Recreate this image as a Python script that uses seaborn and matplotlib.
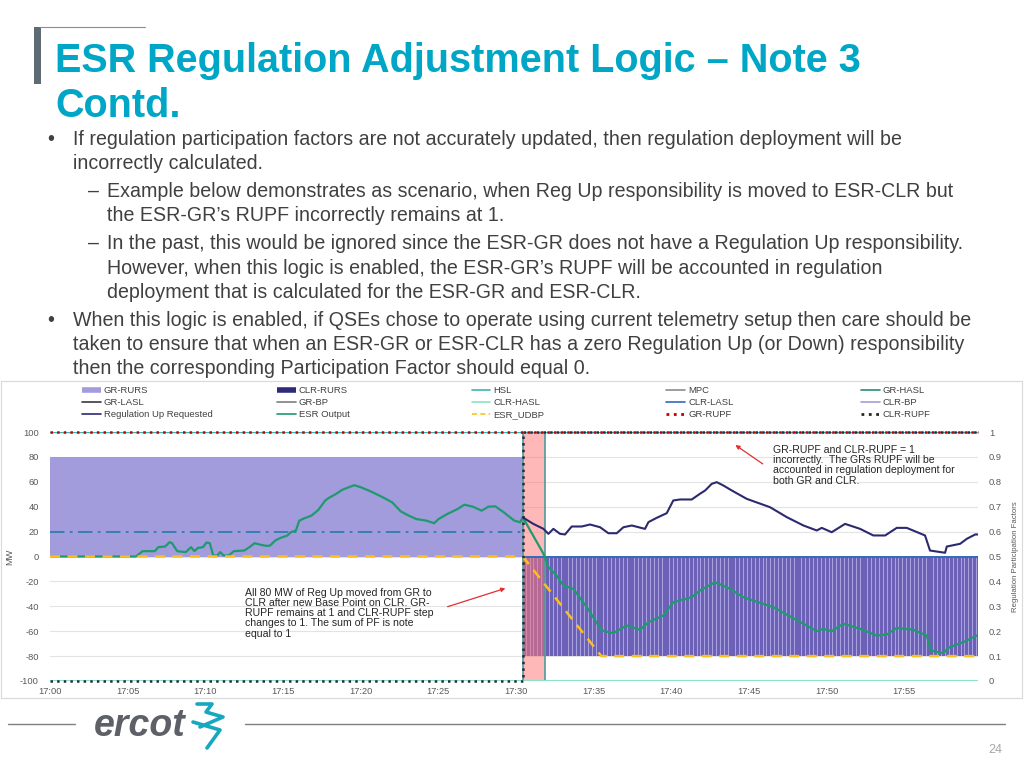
import numpy as np
import pandas as pd
import seaborn as sns
import matplotlib.pyplot as plt
from matplotlib.lines import Line2D
from matplotlib.patches import Rectangle

# time axis is in minutes after 17:00
tick_minutes = [0, 5, 10, 15, 20, 25, 30, 35, 40, 45, 50, 55]
tick_labels = ['17:00', '17:05', '17:10', '17:15', '17:20', '17:25',
               '17:30', '17:35', '17:40', '17:45', '17:50', '17:55']
x_end = 59.75
switch_t = 30.44      # new base point on CLR
pink_end = 31.85

gr_rurs_mw = 80
clr_rurs_mw = -80
gr_bp_mw = 20
hsl_mw = 100
clr_hasl_mw = -100

udbp_t = [0, 30.44, 35.5, 59.75]
udbp_mw = [0, 0, -80, -80]

gr_rupf_t = [0, 59.75]
gr_rupf = [1, 1]
clr_rupf_t = [0, 30.44, 30.44, 59.75]
clr_rupf = [0, 0, 1, 1]

esr_t = [0, 5.53, 5.97, 6.75, 6.97, 7.41, 7.70, 7.86, 8.19, 8.74, 9.08, 9.30, 9.52, 9.85,
         10.07, 10.29, 10.51, 10.78, 10.96, 11.18, 11.51, 11.84, 12.51, 12.84, 13.17, 13.61,
         13.95, 14.17, 14.50, 14.83, 15.28, 15.50, 15.83, 16.05, 16.38, 16.83, 17.27, 17.71,
         17.93, 18.40, 18.82, 19.59, 20.04, 20.70, 21.36, 22.03, 22.58, 23.02, 23.58, 24.24,
         24.73, 25.02, 25.57, 26.24, 26.68, 27.23, 27.79, 28.23, 28.67, 29.22, 29.89, 30.27,
         30.44, 31.77, 32.09, 32.6, 33.05, 33.7, 34.56, 35.52, 36.27, 37.13, 37.99, 38.53,
         39.49, 40.13, 41.32, 41.85, 42.82, 43.79, 44.64, 46.57, 48.51, 49.37, 49.8, 50.33,
         51.08, 52.16, 53.23, 53.88, 54.52, 55.59, 56.45, 56.71, 57.52, 57.84, 58.81, 59.67,
         59.75]
esr_mw = [0, 0, 4.3, 4.3, 7.5, 8, 11.5, 10.7, 4.3, 3.5, 7.5, 4.3, 6.9, 7.5,
          11.2, 10.7, 0.8, 0.8, 3.5, 0.8, 0.8, 4.3, 4.8, 7.5, 10.7, 9.3,
          8.5, 8.8, 12.8, 14.9, 16.8, 19.5, 20.8, 28.8, 30.7, 32.8, 37.3, 44.8,
          46.9, 50.1, 53.6, 57.3, 55.5, 52, 48, 43.5, 36.3, 33.3, 30.1, 28.8,
          26.7, 30.1, 34.1, 38.1, 41.6, 40, 36.8, 40, 40.3, 35.5, 28.8, 27.5,
          31.5, 2.2, -8.6, -15, -23.3, -26, -40.7, -59.4, -61.6, -55.4, -58.9, -52.8,
          -47.4, -36.7, -32.7, -27.3, -20.6, -26, -32.7, -40.7, -54, -60, -58.1, -60,
          -54, -58.1, -63.5, -62.7, -57.3, -58.9, -63.5, -75.5, -77.7, -73.3, -68.8, -63.5,
          -63]

regup_t = [30.48, 31.12, 31.77, 32.09, 32.41, 32.84, 33.16, 33.59, 34.24, 34.77, 35.42,
           35.95, 36.49, 36.92, 37.46, 38.31, 38.53, 39.07, 39.71, 40.13, 40.57, 41.32,
           41.85, 42.18, 42.61, 42.93, 43.36, 43.9, 44.86, 46.36, 47.44, 48.51, 49.37,
           49.69, 50.33, 51.19, 52.16, 53.01, 53.77, 54.52, 55.16, 56.34, 56.66, 57.63,
           57.74, 58.6, 59.03, 59.57, 59.75]
regup_mw = [31.1, 26.2, 22.2, 18.2, 22.2, 18.2, 17.7, 24.1, 24.1, 25.7, 23.5,
            18.7, 18.7, 23.5, 24.9, 22.2, 27.6, 31.1, 34.8, 45, 45.8, 45.8,
            50.4, 53, 58.4, 59.7, 57, 53, 46.3, 39.6, 31.6, 24.9, 20.9,
            23, 19.5, 26.2, 22.2, 16.9, 16.9, 23, 23, 16.9, 4.8, 3,
            8, 10.2, 14.2, 17.7, 17.7]

title_lines = ['ESR Regulation Adjustment Logic – Note 3', 'Contd.']
body = [
    (47, 145, '•'), (73, 145, 'If regulation participation factors are not accurately updated, then regulation deployment will be'),
    (73, 169, 'incorrectly calculated.'),
    (88, 197, '–'), (107, 197, 'Example below demonstrates as scenario, when Reg Up responsibility is moved to ESR-CLR but'),
    (107, 221, 'the ESR-GR’s RUPF incorrectly remains at 1.'),
    (88, 249, '–'), (107, 249, 'In the past, this would be ignored since the ESR-GR does not have a Regulation Up responsibility.'),
    (107, 274, 'However, when this logic is enabled, the ESR-GR’s RUPF will be accounted in regulation'),
    (107, 298, 'deployment that is calculated for the ESR-GR and ESR-CLR.'),
    (47, 326, '•'), (73, 326, 'When this logic is enabled, if QSEs chose to operate using current telemetry setup then care should be'),
    (73, 350, 'taken to ensure that when an ESR-GR or ESR-CLR has a zero Regulation Up (or Down) responsibility'),
    (73, 374, 'then the corresponding Participation Factor should equal 0.'),
]
note_top = 'GR-RUPF and CLR-RUPF = 1\nincorrectly.  The GRs RUPF will be\naccounted in regulation deployment for\nboth GR and CLR.'
note_bottom = 'All 80 MW of Reg Up moved from GR to\nCLR after new Base Point on CLR. GR-\nRUPF remains at 1 and CLR-RUPF step\nchanges to 1. The sum of PF is note\nequal to 1'

sns.set_theme(style='white')
plt.rcParams['font.family'] = ['Liberation Sans', 'DejaVu Sans']
plt.rcParams['axes.unicode_minus'] = False

W, H = 1024, 768
def fx(px):
    return px / W
def fy(py):
    return 1 - py / H

fig = plt.figure(figsize=(10.24, 7.68), dpi=100)

# slide header
fig.add_artist(Rectangle((fx(34), fy(84)), 7 / W, 57 / H, transform=fig.transFigure,
                         color='#5f6b73', lw=0))
fig.add_artist(Line2D([fx(40), fx(145)], [fy(27), fy(27)], transform=fig.transFigure,
                      color='#8c8c8c', lw=0.8))
for i, t in enumerate(title_lines):
    fig.text(fx(55), fy(72 + 45 * i), t, fontsize=28.5, fontweight='bold', color='#00a6c6',
             va='baseline')
for x, y, t in body:
    fig.text(fx(x), fy(y), t, fontsize=14.1, color='#404040', va='baseline')

# chart frame
fig.add_artist(Rectangle((fx(1), fy(698)), 1021 / W, 317 / H, transform=fig.transFigure,
                         fill=False, edgecolor='#d9d9d9', lw=0.8))

ax = fig.add_axes([fx(50), fy(681), (978 - 50) / W, (681 - 432) / H])
ax.set_xlim(0, x_end)
ax.set_ylim(-100, 100)

ax.fill_between([0, switch_t], 0, gr_rurs_mw, color='#a29bdc', lw=0, zorder=1)
ax.fill_between([switch_t, x_end], 0, clr_rurs_mw, color='#a9a2e0', lw=0, zorder=1)
bar_t = np.arange(switch_t, x_end, 0.25)
ax.bar(bar_t, [clr_rurs_mw] * len(bar_t), width=0.19, align='edge', color='#6c61b7',
       lw=0, zorder=1.5)
ax.axvspan(switch_t, pink_end, color='#ff7272', alpha=0.5, lw=0, zorder=2)
ax.vlines([switch_t, pink_end], -100, 100, color='#4f9a9a', lw=1.2, zorder=2.5)

sns.lineplot(x=[0, x_end], y=[hsl_mw, hsl_mw], ax=ax, color='#3fb3b0', lw=1, zorder=3)
sns.lineplot(x=[0, x_end], y=[clr_hasl_mw, clr_hasl_mw], ax=ax, color='#8ee3c7', lw=2.2,
             zorder=3)
sns.lineplot(x=[0, switch_t], y=[gr_bp_mw, gr_bp_mw], ax=ax, color='#2f7cb0', lw=1.3,
             zorder=3).lines[-1].set_dashes((8, 3, 1.5, 3))
sns.lineplot(x=[switch_t, x_end], y=[0, 0], ax=ax, color='#2f6cb8', lw=1.4, zorder=3)
sns.lineplot(x=esr_t, y=esr_mw, ax=ax, color='#1f9a6e', lw=1.6, zorder=4, sort=False,
             estimator=None)
sns.lineplot(x=udbp_t, y=udbp_mw, ax=ax, color='#ffbf1a', lw=1.8, zorder=4.2,
             sort=False).lines[-1].set_dashes((4, 3))
sns.lineplot(x=regup_t, y=regup_mw, ax=ax, color='#2b2a6e', lw=1.5, zorder=4.5, sort=False,
             estimator=None)

ax.set_yticks(range(-100, 101, 20))
ax.set_xticks(tick_minutes, tick_labels)
ax.yaxis.grid(True, color='#e3e3e3', lw=0.8)
ax.set_axisbelow(True)
ax.tick_params(labelsize=6.7, labelcolor='#595959', length=0, pad=8)
ax.tick_params(axis='x', pad=4)
ax.set_xlabel('')
ax.set_ylabel('MW', fontsize=6.7, color='#595959')
ax.yaxis.set_label_coords((14 - 50) / 928, 0.5)
for s in ax.spines.values():
    s.set_visible(False)

ax2 = ax.twinx()
ax2.set_ylim(0, 1)
sns.lineplot(x=gr_rupf_t, y=gr_rupf, ax=ax2, color='#c00000', lw=1.8, zorder=5)
ax2.lines[-1].set_linestyle(':')
ax2.lines[-1].set_clip_on(False)
sns.lineplot(x=clr_rupf_t, y=clr_rupf, ax=ax2, color='#262a40', lw=1.8, zorder=6, sort=False,
             estimator=None)
ax2.lines[-1].set_linestyle(':')
ax2.lines[-1].set_clip_on(False)
ax2.set_yticks(np.round(np.arange(0, 1.01, 0.1), 1),
               ['0', '0.1', '0.2', '0.3', '0.4', '0.5', '0.6', '0.7', '0.8', '0.9', '1'])
ax2.tick_params(labelsize=6.7, labelcolor='#595959', length=0, pad=8)
ax2.set_ylabel('Regulation Participation Factors', fontsize=5.6, color='#595959')
ax2.yaxis.set_label_coords((1012 - 50) / 928, 0.5)
for s in ax2.spines.values():
    s.set_visible(False)

# notes
ax.text(46.55, 89.5, note_top, fontsize=7.6, color='#262626', va='top', linespacing=1.02)
ax.annotate('', xy=(43.98, 90.8), xytext=(46.04, 73.1),
            arrowprops=dict(arrowstyle='-|>', color='#e03030', lw=0.9, mutation_scale=6))
ax.text(12.56, -25.3, note_bottom, fontsize=7.6, color='#262626', va='top', linespacing=1.02)
ax.annotate('', xy=(29.49, -24.9), xytext=(25.43, -41),
            arrowprops=dict(arrowstyle='-|>', color='#e03030', lw=0.9, mutation_scale=6))

# legend laid out on a fixed five-column grid like the source
legend_cols = [
    [(Line2D([], [], color='#a29bdc', lw=4, solid_capstyle='butt'), 'GR-RURS'),
     (Line2D([], [], color='#3a3a3a', lw=1.2), 'GR-LASL'),
     (Line2D([], [], color='#2b2a6e', lw=1.2), 'Regulation Up Requested')],
    [(Line2D([], [], color='#2e2a78', lw=4, solid_capstyle='butt'), 'CLR-RURS'),
     (Line2D([], [], color='#7f7f7f', lw=1.2), 'GR-BP'),
     (Line2D([], [], color='#1f9a6e', lw=1.2), 'ESR Output')],
    [(Line2D([], [], color='#3fb3b0', lw=1.2), 'HSL'),
     (Line2D([], [], color='#8ee3c7', lw=1.2), 'CLR-HASL'),
     (Line2D([], [], color='#ffbf1a', lw=1.2, dashes=(3, 2)), 'ESR_UDBP')],
    [(Line2D([], [], color='#8c8c8c', lw=1.2), 'MPC'),
     (Line2D([], [], color='#2f6cb8', lw=1.2), 'CLR-LASL'),
     (Line2D([], [], color='#c00000', lw=2, ls=':'), 'GR-RUPF')],
    [(Line2D([], [], color='#2a8a80', lw=1.2), 'GR-HASL'),
     (Line2D([], [], color='#a89ad8', lw=1.2), 'CLR-BP'),
     (Line2D([], [], color='#262626', lw=2, ls=':'), 'CLR-RUPF')],
]
for i, col in enumerate(legend_cols):
    fig.legend([h for h, _ in col], [l for _, l in col], loc='upper left',
               bbox_to_anchor=(fx(82 + 194.8 * i), fy(386)), frameon=False, fontsize=6.8,
               labelcolor='#404040', handlelength=2.0, handletextpad=0.3, labelspacing=0.33,
               borderpad=0, borderaxespad=0)

# footer
fig.add_artist(Line2D([fx(8), fx(75)], [fy(724), fy(724)], transform=fig.transFigure,
                      color='#7f7f7f', lw=1))
fig.add_artist(Line2D([fx(245), fx(1005)], [fy(724), fy(724)], transform=fig.transFigure,
                      color='#7f7f7f', lw=1))
fig.text(fx(94), fy(736), 'ercot', fontsize=27, fontweight='bold', style='italic',
         color='#5d6167', va='baseline')
fig.add_artist(Line2D([fx(p) for p in (197, 212, 206, 223, 200)],
                      [fy(p) for p in (704, 704, 712, 717, 727)],
                      transform=fig.transFigure, color='#17a7bf', lw=2.6))
fig.add_artist(Line2D([fx(p) for p in (193, 220, 207)], [fy(p) for p in (722, 730, 748)],
                      transform=fig.transFigure, color='#17a7bf', lw=2.6))
fig.text(fx(988), fy(753), '24', fontsize=9, color='#a6a6a6', va='baseline')

fig.savefig('out.png', dpi=100)
